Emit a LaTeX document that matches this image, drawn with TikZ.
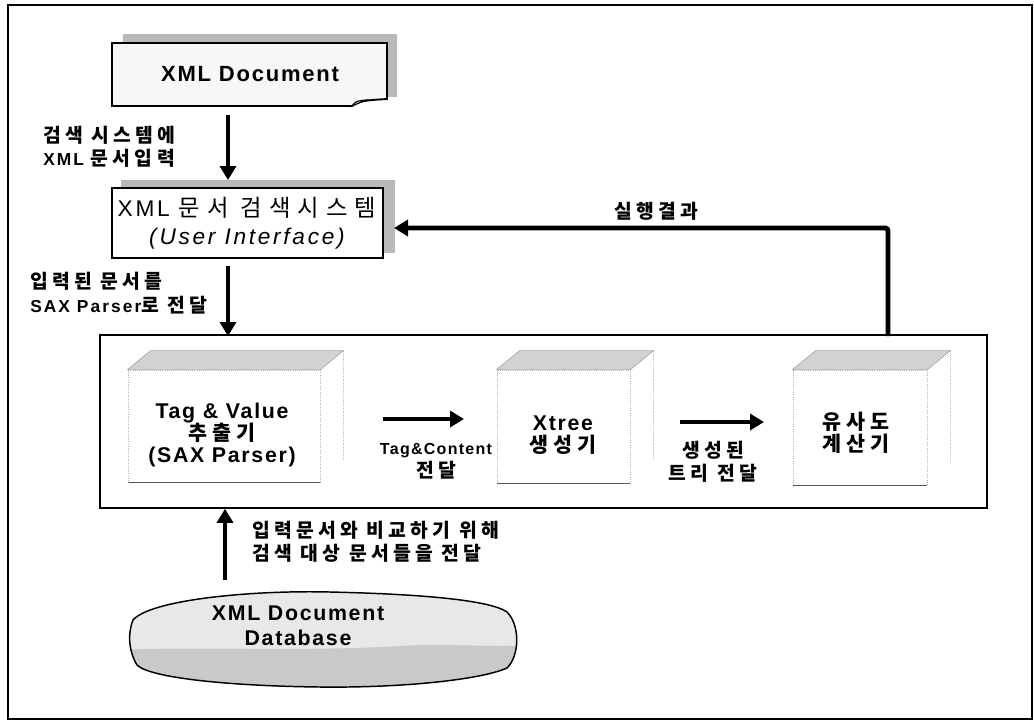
\documentclass[tikz,border=0pt]{standalone}
\usepackage{fontspec}
\setmainfont{Liberation Sans}[LetterSpace=8]
\newfontfamily\lblfont{Liberation Sans}[LetterSpace=12]
\newfontfamily\uifont{Liberation Sans}[LetterSpace=12]
\newfontfamily\krwide{Noto Sans CJK KR}[LetterSpace=22]
\newfontfamily\krmid{Noto Sans CJK KR}[LetterSpace=25]
\newfontfamily\krui{Noto Sans CJK KR}[LetterSpace=30]
\newcommand\hanL[1]{{\krwide\fontsize{14.5}{17.5}\selectfont #1}}
\newcommand\hanM[1]{{\krmid\fontsize{15.5}{16.5}\selectfont #1}}
\newcommand\hanU[1]{{\krui\fontsize{17.5}{21}\selectfont #1}}
\usetikzlibrary{arrows.meta}
\begin{document}
\begin{tikzpicture}[x=0.75pt,y=-0.75pt,
  arr/.style={line width=3.6pt,-{Triangle[length=10.5pt,width=12pt]}},
  lbl/.style={font=\lblfont\bfseries\fontsize{13}{17.5}\selectfont,inner sep=0pt},
  boxtxt/.style={font=\bfseries\fontsize{16}{16.5}\selectfont,align=center,inner sep=0pt},
  shadowfill/.style={fill=gray!55},
  topface/.style={fill=gray!35,draw=gray!70,line width=0.5pt},
  frontface/.style={draw=gray!60,densely dotted,line width=0.6pt,minimum width=#1},
  frame/.style={draw=black,line width=1.2pt}
]
\useasboundingbox (0,0) rectangle (1034,722);
% outer frame
\draw[line width=1.1pt] (8,5) rectangle (1032,719);

% ---------- XML Document (top) ----------
\fill[shadowfill] (123,34) rectangle (397,97);
\filldraw[fill=gray!6,draw=black,line width=1.4pt]
  (112,43) -- (387,43) -- (387,99) .. controls (372,100) and (360,100) .. (352,106) -- (112,106) -- cycle;
\filldraw[fill=gray!40,draw=black,line width=0.8pt] (352,106) .. controls (356,101) .. (366,100) -- cycle;
\node[font=\bfseries\fontsize{16.5}{19}\selectfont,inner sep=0pt] (doc) at (250,74) {XML Document};
\coordinate (a1s) at (228,115);
\coordinate (a1t) at (228,180);
\draw[arr] (a1s) -- (a1t);
\node[lbl,align=left,anchor=west] (l1) at (43,147) {\hanL{검색 시스템에}\\XML \hanL{문서입력}};

% ---------- UI box ----------
\fill[shadowfill] (121,180) rectangle (395,253);
\filldraw[fill=white,draw=black,line width=1.3pt] (112,188) rectangle (383,258);
\node[font=\uifont\fontsize{17}{21}\selectfont,align=center,inner sep=0pt] (ui) at (247,223)
  {XML \hanU{문서 검색시스템}\\\itshape(User Interface)};
\coordinate (a2s) at (228,266);
\coordinate (a2t) at (228,336);
\draw[arr] (a2s) -- (a2t);
\node[lbl,align=left,anchor=west] (l2) at (30,293) {\hanL{입력된 문서를}\\SAX Parser\hanL{로 전달}};

% ---------- result feedback ----------
\coordinate (rs) at (888,336);
\coordinate (rt) at (394,228);
\draw[arr,rounded corners=2pt] (rs) |- (rt);
\node[lbl] (lres) at (656,211) {\hanL{실행결과}};

% ---------- main box ----------
\node[frame,minimum width=665.25pt,minimum height=129.75pt,inner sep=0pt] (main) at (543.5,421.5) {};

% inner 3D boxes
\node[frontface=144pt,minimum height=84pt,inner sep=0pt] (A) at (224,426) {};
\node[frontface=99.75pt,minimum height=84.75pt,inner sep=0pt] (B) at (563.5,426.5) {};
\node[frontface=100.5pt,minimum height=86.25pt,inner sep=0pt] (C) at (860,427.5) {};
\foreach \b in {A,B,C}{
  \filldraw[topface] (\b.north west) -- ++(23,-19) -- ([shift={(23,-19)}]\b.north east) -- (\b.north east) -- cycle;
  \draw[gray!55,densely dotted,line width=0.6pt] ([shift={(23,-19)}]\b.north east) -- ([shift={(23,-22)}]\b.south east);
  \draw[gray!70!black,line width=0.8pt] (\b.south west) -- (\b.south east);
}
\node[boxtxt] (At) at (222,434.5) {Tag \& Value\\\hanM{추출기}\\(SAX Parser)};
\node[boxtxt] (Bt) at (563,435.5) {Xtree\\\hanM{생성기}};
\node[boxtxt] (Ct) at (856,432.5) {\hanM{유사도}\\\hanM{계산기}};

\coordinate (ab1) at (383,419);
\coordinate (ab2) at (464,419);
\draw[arr] (ab1) -- (ab2);
\node[lbl,align=center] (lab) at (436,461) {{\rmfamily\fontsize{12}{17.5}\selectfont Tag\&Content}\\\hanL{전달}};
\coordinate (bc1) at (680,422);
\coordinate (bc2) at (764,422);
\draw[arr] (bc1) -- (bc2);
\node[lbl,align=center] (lbc) at (713,462) {\hanL{생성된}\\\hanL{트리 전달}};

% ---------- database ----------
\def\dbpath{(133,620) .. controls (150,600) and (250,590) .. (330,592) .. controls (420,594) and (490,600) .. (507,612) .. controls (520,625) and (520,655) .. (507,668) .. controls (480,680) and (400,688) .. (320,687) .. controls (230,686) and (150,678) .. (137,665) .. controls (128,650) and (128,632) .. cycle}
\fill[gray!18] \dbpath;
\begin{scope}
  \clip \dbpath;
  \fill[gray!42] (120,650) .. controls (200,646) and (300,652) .. (400,646) .. controls (450,643) and (500,648) .. (530,645) -- (530,700) -- (120,700) -- cycle;
\end{scope}
\draw[line width=1.1pt] \dbpath;
\node[font=\bfseries\fontsize{16}{19}\selectfont,align=center,inner sep=0pt] (db) at (298,626) {XML Document\\Database};
\coordinate (d1) at (225,580);
\draw[arr] (d1) -- (d1 |- main.south);
\node[lbl,align=left,anchor=west] (ldb) at (252,542) {\hanL{입력문서와 비교하기 위해}\\\hanL{검색 대상 문서들을 전달}};
\end{tikzpicture}
\end{document}
